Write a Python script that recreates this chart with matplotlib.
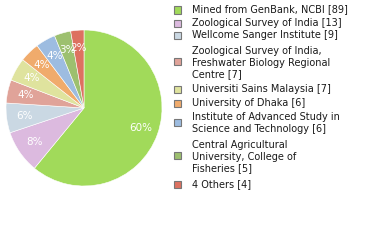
import math
import matplotlib
matplotlib.use("Agg")
import matplotlib.pyplot as plt
from matplotlib.patches import Rectangle

labels = ["Mined from GenBank, NCBI [89]",
          "Zoological Survey of India [13]",
          "Wellcome Sanger Institute [9]",
          "Zoological Survey of India,\nFreshwater Biology Regional\nCentre [7]",
          "Universiti Sains Malaysia [7]",
          "University of Dhaka [6]",
          "Institute of Advanced Study in\nScience and Technology [6]",
          "Central Agricultural\nUniversity, College of\nFisheries [5]",
          "4 Others [4]"]
values = [89, 13, 9, 7, 7, 6, 6, 5, 4]
colors = ["#a1da5a", "#dcbadf", "#cad8e3", "#e0a399", "#dfe39e",
          "#f0ab6c", "#9dbce0", "#9dc06f", "#dd7160"]

W, H = 380, 240
fig = plt.figure(figsize=(W/100, H/100), dpi=100)
cx, cy, r = 84, 108, 78
ax = fig.add_axes([(cx - r)/W, (H - cy - r)/H, 2*r/W, 2*r/H])
ax.pie(values, colors=colors, startangle=90, counterclock=False,
       autopct=lambda p: "%d%%" % math.floor(p + 1e-9), pctdistance=0.77,
       wedgeprops=dict(edgecolor="white", linewidth=0.4),
       textprops=dict(color="white", fontsize=7.5, family="DejaVu Sans"),
       radius=1)
ax.set_xlim(-1, 1); ax.set_ylim(-1, 1)
ax.set_aspect("equal")
ax.axis("off")

# legend drawn manually (pixel layout, first-line centres from the top)
first_line_y = [9.5, 22.5, 35, 51, 89, 103, 117, 145, 184]
pitch = 11.7
for lab, col, yc in zip(labels, colors, first_line_y):
    n = lab.count("\n") + 1
    sq = yc + (n - 1) * pitch / 2 - (0.8 if n > 1 else -0.5)
    fig.patches.append(Rectangle((174/W, (H - sq - 3.5)/H), 7/W, 7/H,
                                 transform=fig.transFigure, facecolor=col,
                                 edgecolor="#777777", linewidth=0.8))
    fig.text(192/W, (H - (yc - 5))/H, lab, ha="left", va="top", fontsize=7,
             color="#1a1a1a", linespacing=1.2, family="DejaVu Sans")

fig.savefig("out.png", dpi=100)
